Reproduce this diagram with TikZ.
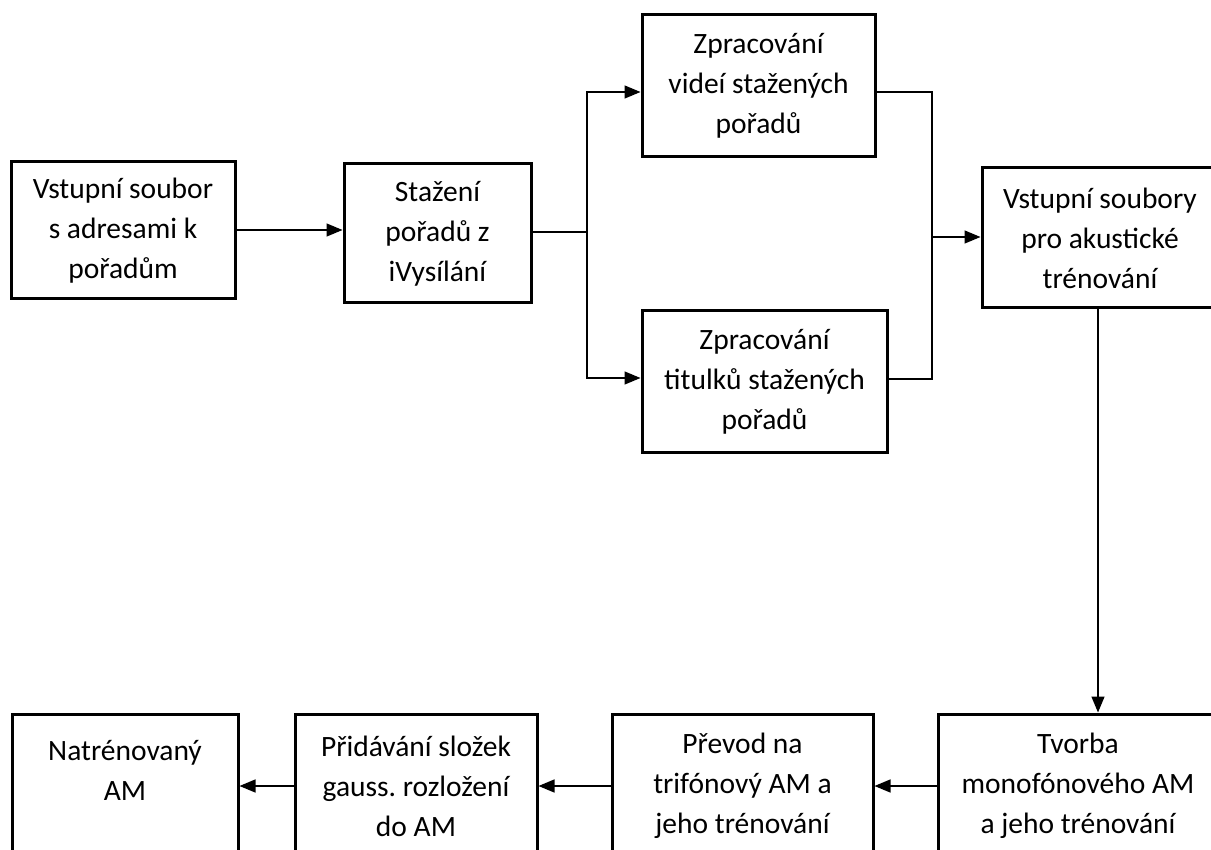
\documentclass[tikz,border=0pt]{standalone}
\usepackage{fontspec}
\setmainfont{Carlito}
\usetikzlibrary{arrows.meta}
\begin{document}
\begin{tikzpicture}[x=1pt,y=-1pt,
  box/.style={draw, line width=3pt, rectangle, align=center, inner sep=0pt,
    font=\fontsize{29.5}{40}\selectfont\frenchspacing},
  link/.style={line width=1.4pt},
  arrow/.style={link, -{Triangle[length=16pt,width=13pt]}}]
  \useasboundingbox (0,0) rectangle (1211,850);
  \clip (0,0) rectangle (1211,850);

  % upper part: preparing the training data
  \node[box, minimum width=224pt, minimum height=137pt] (src) at (123,230.5)
    {Vstupní soubor\\s adresami k\\pořadům};
  \node[box, minimum width=187pt, minimum height=139pt] (dl) at (437.5,233.5)
    {Stažení\\pořadů z\\iVysílání};
  \node[box, minimum width=233pt, minimum height=142pt] (vid) at (758.5,86)
    {Zpracování\\videí stažených\\pořadů};
  \node[box, minimum width=245pt, minimum height=141pt] (sub) at (764.5,381.5)
    {Zpracování\\titulků stažených\\pořadů};
  \node[box, minimum width=236pt, minimum height=140pt] (inp) at (1100,238)
    {Vstupní soubory\\pro akustické\\trénování};

  % lower part: acoustic model training
  \node[box, minimum width=280pt, minimum height=144pt] (mono) at (1078,786)
    {Tvorba\\monofónového AM\\a jeho trénování};
  \node[box, minimum width=261pt, minimum height=144pt] (tri) at (742.5,786)
    {Převod na\\trifónový AM a\\jeho trénování};
  \node[box, minimum width=242pt, minimum height=144pt] (gmm) at (416,786)
    {Přidávání složek\\gauss. rozložení\\do AM};
  \node[box, minimum width=226pt, minimum height=164pt] (am) at (125,796)
    {Natrénovaný\\AM\\\strut};

  % connectors
  \coordinate (split) at (587,232);
  \coordinate (merge) at (932,237);
  \draw[arrow] (src.east |- 0,230) -- (dl.west |- 0,230);
  \draw[link] (dl.east |- split) -- (split);
  \draw[arrow] (split) |- (vid.west |- 0,92);
  \draw[arrow] (split) |- (sub.west |- 0,378);
  \draw[link] (vid.east |- 0,92) -| (merge);
  \draw[link] (sub.east |- 0,379) -| (merge);
  \draw[arrow] (merge) -- (inp.west |- merge);
  \draw[arrow] (inp.south -| 1098,0) -- (mono.north -| 1098,0);
  \draw[arrow] (mono.west |- 0,786) -- (tri.east |- 0,786);
  \draw[arrow] (tri.west |- 0,786) -- (gmm.east |- 0,786);
  \draw[arrow] (gmm.west |- 0,786) -- (am.east |- 0,786);
\end{tikzpicture}
\end{document}
